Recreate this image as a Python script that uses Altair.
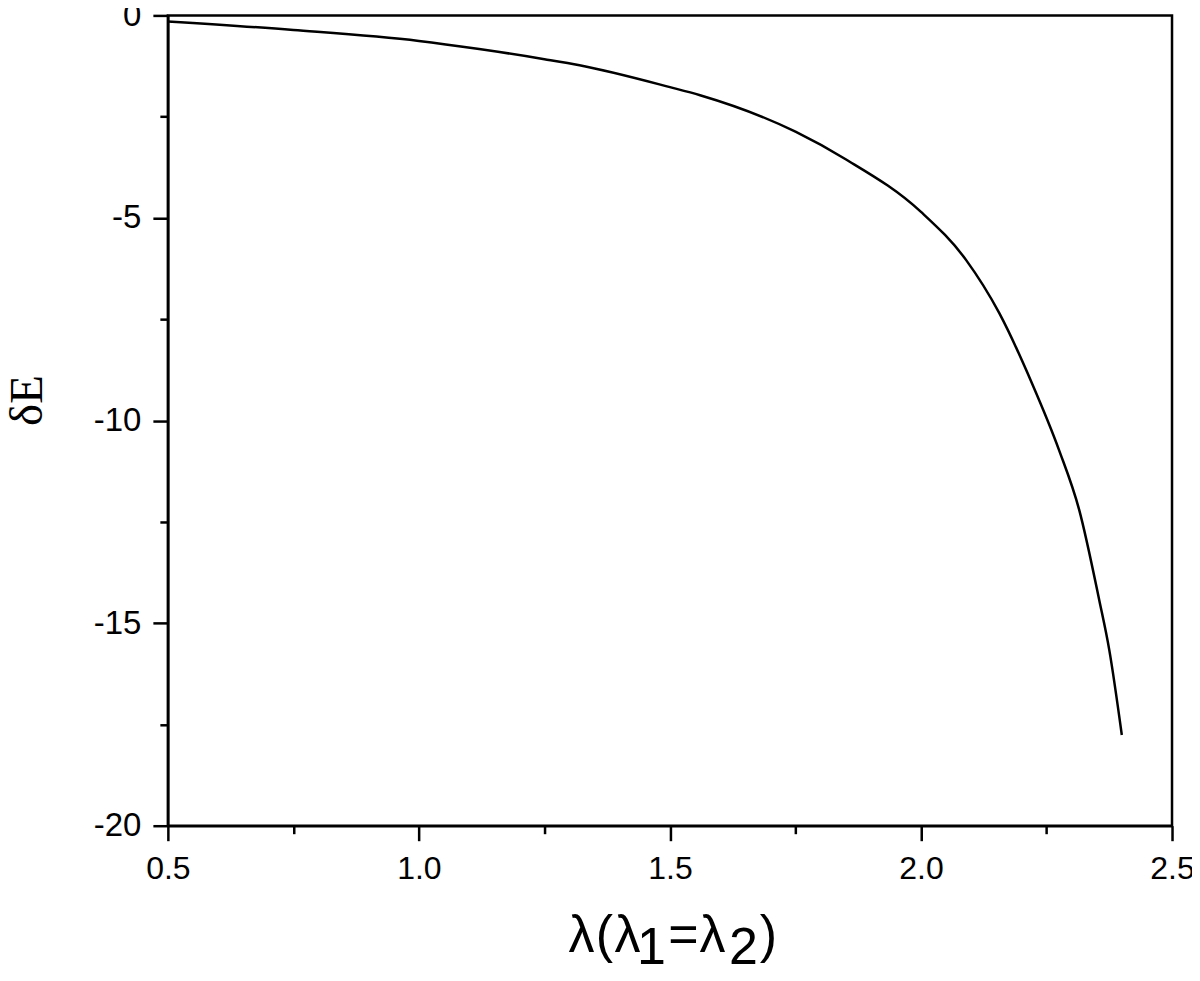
import altair as alt
import pandas as pd

# curve values
lam = [0.5, 0.75, 1.0, 1.12, 1.25, 1.32, 1.5, 1.56, 1.75, 1.85, 2.0,
       2.09, 2.156, 2.221, 2.275, 2.315, 2.355, 2.375, 2.40]
dE = [-0.15, -0.36, -0.63, -0.83, -1.08, -1.23, -1.77, -1.97, -2.87, -3.55, -4.85,
      -6.04, -7.35, -9.08, -10.73, -12.2, -14.43, -15.66, -17.76]

x_major = [0.5, 1.0, 1.5, 2.0, 2.5]
x_minor = [0.75, 1.25, 1.75, 2.25]
y_major = [0, -5, -10, -15, -20]
y_minor = [-2.5, -7.5, -12.5, -17.5]

# x-axis title pieces: (text, is_subscript)
title_chars = ["λ", "(", "λ", "1", "=", "λ", "2", ")"]
title_sub = [False, False, False, True, False, False, True, False]

df = pd.DataFrame({"lam": lam, "dE": dE})

W, H = 1005, 811
LABEL_FONT = "Liberation Sans"
LW = 2.5

xscale = alt.Scale(domain=[0.5, 2.5], nice=False, zero=False)
yscale = alt.Scale(domain=[-20, 0], nice=False, zero=False)

line = alt.Chart(df).mark_line(color="black", strokeWidth=LW, interpolate="monotone").encode(
    x=alt.X("lam:Q", scale=xscale,
            axis=alt.Axis(orient="bottom", values=x_major, format=".1f", title=None, grid=False,
                          tickSize=15, tickWidth=LW, domainWidth=LW, domainColor="black",
                          tickColor="black", labelFont=LABEL_FONT, labelFontSize=32,
                          labelColor="black", labelPadding=13, labelFlush=False)),
    y=alt.Y("dE:Q", scale=yscale,
            axis=alt.Axis(orient="left", values=y_major, labelExpr="toString(datum.value)",
                          title="δE", titleFont="Liberation Serif", titleFontSize=47,
                          titleFontWeight="normal", titleColor="black",
                          titleAngle=270, titleAlign="center", titleBaseline="alphabetic",
                          titleX=-126, titleY=385,
                          grid=False, tickSize=15, tickWidth=LW, domainWidth=LW,
                          domainColor="black", tickColor="black", labelFont=LABEL_FONT,
                          labelFontSize=33, labelColor="black", labelPadding=12,
                          labelFlush=False)),
)

minor = alt.Chart(df).mark_point(opacity=0).encode(
    x=alt.X("lam:Q", scale=xscale,
            axis=alt.Axis(orient="bottom", values=x_minor, labels=False, title=None,
                          grid=False, domain=False, tickSize=8, tickWidth=LW,
                          tickColor="black")),
    y=alt.Y("dE:Q", scale=yscale,
            axis=alt.Axis(orient="left", values=y_minor, labels=False, title=None,
                          grid=False, domain=False, tickSize=8, tickWidth=LW,
                          tickColor="black")),
)

# pixel centres of the title glyphs (layout only)
title_x = [414, 437, 460, 484, 516, 545, 576, 601]
layers = [line, minor]
for ch, sub, px in zip(title_chars, title_sub, title_x):
    layers.append(
        alt.Chart(pd.DataFrame({"t": [ch]})).mark_text(
            font=LABEL_FONT, fontSize=52, align="center", baseline="alphabetic",
            color="black"
        ).encode(text="t:N", x=alt.value(px), y=alt.value(949 if sub else 937))
    )

chart = alt.layer(*layers).resolve_axis(x="independent", y="independent").properties(
    width=W, height=H,
    autosize=alt.AutoSizeParams(type="none"),
    padding={"left": 160, "top": 7, "right": 20, "bottom": 140},
    background="white",
).configure_view(stroke="black", strokeWidth=LW)

chart.save("out.html", embed_options={"renderer": "svg", "actions": False})
